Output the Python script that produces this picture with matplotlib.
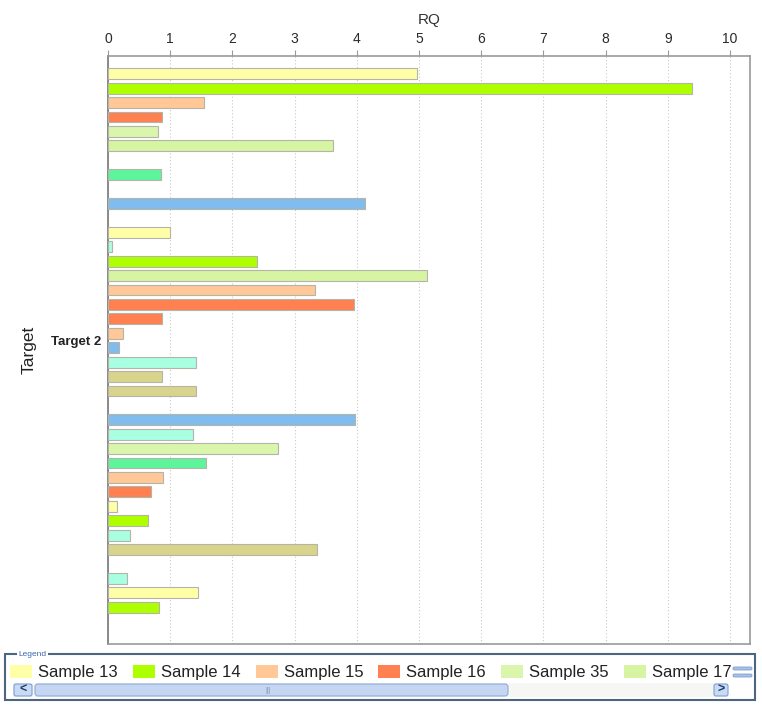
"""
RQ per sample for one target, drawn as horizontal bars,
with a legend panel laid out like the one in the software window.
"""

# Libraries
import numpy as np
import matplotlib
matplotlib.use('Agg')
from matplotlib import pyplot as plt
from matplotlib.patches import Rectangle, FancyBboxPatch

plt.rcParams['font.family'] = ['Liberation Sans', 'DejaVu Sans']

# Data (None = empty slot)
target = 'Target 2'
rq = [4.97, 9.39, 1.55, 0.87, 0.81, 3.61, None, 0.85, None, 4.13, None,
      1.00, 0.06, 2.40, 5.13, 3.33, 3.96, 0.87, 0.24, 0.17, 1.42, 0.87, 1.42, None,
      3.97, 1.36, 2.74, 1.58, 0.89, 0.69, 0.14, 0.65, 0.36, 3.36, None,
      0.30, 1.44, 0.82]
sample = ['Sample 13', 'Sample 14', 'Sample 15', 'Sample 16', 'Sample 35', 'Sample 17', None,
          'mint', None, 'blue', None,
          'Sample 13', 'aqua', 'Sample 14', 'Sample 17', 'Sample 15', 'Sample 16', 'Sample 16',
          'Sample 15', 'blue', 'aqua', 'khaki', 'khaki', None,
          'blue', 'aqua', 'Sample 35', 'mint', 'Sample 15', 'Sample 16', 'Sample 13',
          'Sample 14', 'aqua', 'khaki', None,
          'aqua', 'Sample 13', 'Sample 14']
legend_names = ['Sample 13', 'Sample 14', 'Sample 15', 'Sample 16', 'Sample 35', 'Sample 17']

# Colours
colours = {'Sample 13': '#ffffa8', 'Sample 14': '#aeff00', 'Sample 15': '#ffc896',
           'Sample 16': '#ff8050', 'Sample 35': '#daf6ac', 'Sample 17': '#d6f4a2',
           'mint': '#5cf59c', 'blue': '#80bcee', 'aqua': '#a8ffe2', 'khaki': '#d8d48c'}

# Figure and main axes
fig = plt.figure(figsize=(7.62, 7.05), dpi=100)
ax = fig.add_axes([108/762, 1 - 644/705, (750 - 108)/762, (644 - 56)/705])

pos = np.arange(len(rq))
for i in range(len(rq)):
    if rq[i] is None:
        continue
    ax.barh(pos[i], rq[i], height=0.75, color=colours[sample[i]],
            edgecolor='#b4b4a8', linewidth=0.8, zorder=3)

ax.set_xlim(0, 10.32)
ax.set_ylim(39.55, -1.23)

# x axis on top
ax.xaxis.tick_top()
ax.xaxis.set_label_position('top')
ax.set_xticks(range(11))
ax.tick_params(axis='x', length=4, color='#999999', pad=3, labelsize=10, labelcolor='#2a2a2a')
ax.set_xlabel('RQ', fontsize=11, color='#333333', labelpad=6)

# y axis: one category
ax.set_yticks([(pos[0] + pos[-1]) / 2])
ax.set_yticklabels([target], fontsize=9.5, fontweight='bold', color='#222222')
ax.tick_params(axis='y', length=0, pad=5)
ax.set_ylabel('Target', fontsize=12.5, color='#222222', labelpad=10)

ax.grid(axis='x', linestyle=(0, (1, 2)), color='#c8c8c8', linewidth=0.8, zorder=0)
for side in ['top', 'right', 'bottom']:
    ax.spines[side].set_color('#999999')
    ax.spines[side].set_linewidth(1.2)
ax.spines['left'].set_color('#777777')
ax.spines['left'].set_linewidth(1.2)

# Legend panel, in pixel coordinates
ov = fig.add_axes([0, 0, 1, 1])
ov.set_xlim(0, 762)
ov.set_ylim(705, 0)
ov.axis('off')

ov.add_patch(Rectangle((5, 654), 750, 46, fill=False, edgecolor='#4d6680', linewidth=1.5))
ov.text(18, 654, 'Legend', fontsize=6, color='#3a6ab0', va='center',
        bbox=dict(facecolor='white', edgecolor='none', pad=1))

for k, name in enumerate(legend_names):
    x0 = 38 + 122.8 * k
    ov.add_patch(Rectangle((x0 - 28, 665), 22, 13, facecolor=colours[name], edgecolor='none'))
    ov.text(x0, 672, name, fontsize=12, va='center', color='#222222')

# Scroll icon at the right
ov.add_patch(FancyBboxPatch((733, 667), 19, 3, boxstyle='round,pad=0,rounding_size=1.5',
                            facecolor='#a8c0e8', edgecolor='#7f9fcf', linewidth=0.6))
ov.add_patch(FancyBboxPatch((733, 674), 19, 3, boxstyle='round,pad=0,rounding_size=1.5',
                            facecolor='#a8c0e8', edgecolor='#7f9fcf', linewidth=0.6))

# Scroll bar
ov.add_patch(Rectangle((13, 683), 715, 14, facecolor='#f6f6f4', edgecolor='none'))
ov.add_patch(FancyBboxPatch((14, 684), 18, 12, boxstyle='round,pad=0,rounding_size=2',
                            facecolor='#c8daf4', edgecolor='#7f9fcf', linewidth=0.8))
ov.text(23, 690, '<', fontsize=9, fontweight='bold', color='#1f3a6a', ha='center', va='center')
ov.add_patch(FancyBboxPatch((35, 684), 473, 12, boxstyle='round,pad=0,rounding_size=3',
                            facecolor='#c4d6f2', edgecolor='#8faad6', linewidth=0.8))
ov.text(268, 690, '|||', fontsize=5, color='#8a9ab8', ha='center', va='center')
ov.add_patch(FancyBboxPatch((714, 684), 14, 12, boxstyle='round,pad=0,rounding_size=2',
                            facecolor='#c8daf4', edgecolor='#7f9fcf', linewidth=0.8))
ov.text(721, 690, '>', fontsize=9, fontweight='bold', color='#1f3a6a', ha='center', va='center')

fig.savefig('out.png', dpi=100)
